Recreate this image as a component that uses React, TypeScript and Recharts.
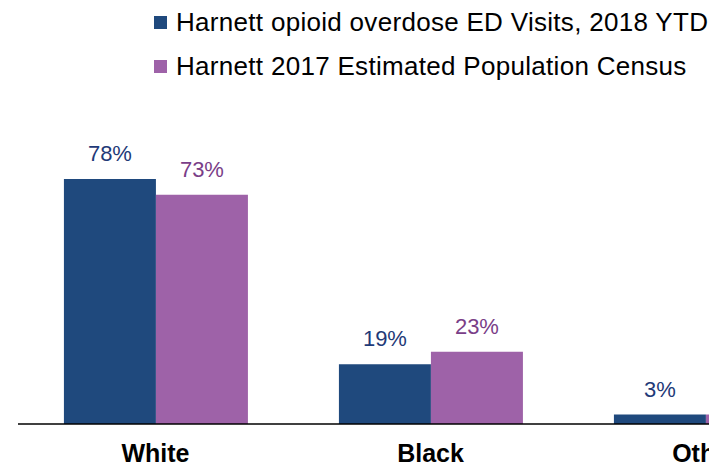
import React from "react";
import { BarChart, Bar, XAxis, YAxis, LabelList } from "recharts";

const categories = ["White", "Black", "Other"];
const edVisits = [78, 19, 3];
const census = [73, 23, 3];
const seriesNames = [
  "Harnett opioid overdose ED Visits, 2018 YTD",
  "Harnett 2017 Estimated Population Census",
];
const colors = ["#1F497D", "#9E62A8"];
const labelColors = ["#1F3A78", "#7A3E88"];

const data = categories.map((c, i) => ({ name: c, ed: edVisits[i], census: census[i] }));

const FONT = "'Liberation Sans', Arial, sans-serif";

const Tick = (props: any) => {
  const { x, y, payload } = props;
  return (
    <text x={x} y={y + 30} textAnchor="middle" fontFamily={FONT} fontWeight="bold" fontSize={25} fill="#000">
      {payload.value}
    </text>
  );
};

export default function App() {
  return (
    <div
      style={{
        position: "fixed",
        top: 0,
        left: 0,
        width: 709,
        height: 466,
        overflow: "hidden",
        background: "#fff",
      }}
    >
      <div style={{ position: "absolute", top: 8, left: 8, width: 852, height: 458 }}>
        <div
          style={{
            position: "absolute",
            top: -8,
            left: 146,
            fontFamily: FONT,
            fontSize: 26,
            letterSpacing: 0.3,
            color: "#000",
            zIndex: 2,
          }}
        >
          {seriesNames.map((n, i) => (
            <div key={n} style={{ display: "flex", alignItems: "center", height: 44, whiteSpace: "nowrap" }}>
              <span
                style={{ width: 13, height: 13, background: colors[i], display: "inline-block", marginRight: 9, flex: "none" }}
              />
              <span>{n}</span>
            </div>
          ))}
        </div>
        <BarChart
          width={852}
          height={458}
          data={data}
          margin={{ top: 102, right: 17, left: 10, bottom: 0 }}
          barCategoryGap="16.7%"
          barGap={0}
        >
          <XAxis
            dataKey="name"
            axisLine={{ stroke: "#000", strokeWidth: 1.5 }}
            tickLine={false}
            height={42}
            tick={<Tick />}
            interval={0}
          />
          <YAxis hide domain={[0, 100]} />
          <Bar dataKey="ed" fill={colors[0]} isAnimationActive={false}>
            <LabelList
              dataKey="ed"
              position="top"
              offset={18}
              formatter={(v: any) => `${v}%`}
              style={{ fontFamily: FONT, fontSize: 22, fill: labelColors[0] }}
            />
          </Bar>
          <Bar dataKey="census" fill={colors[1]} isAnimationActive={false}>
            <LabelList
              dataKey="census"
              position="top"
              offset={18}
              formatter={(v: any) => `${v}%`}
              style={{ fontFamily: FONT, fontSize: 22, fill: labelColors[1] }}
            />
          </Bar>
        </BarChart>
      </div>
    </div>
  );
}
